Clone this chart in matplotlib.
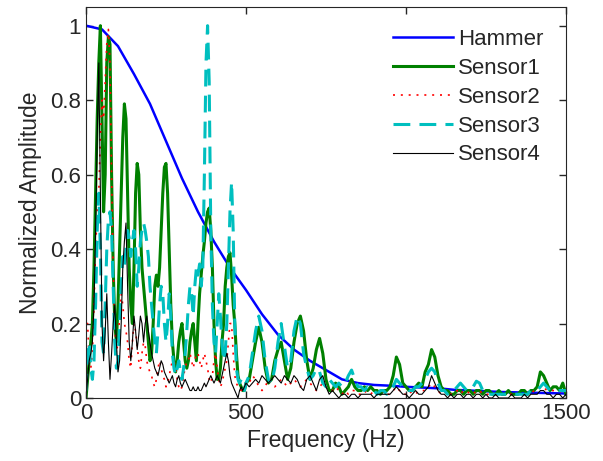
import numpy as np
import matplotlib
matplotlib.use('Agg')
import matplotlib.pyplot as plt

plt.rcParams['font.family'] = ['Liberation Sans', 'DejaVu Sans']

# frequency grids: 5 Hz up to 500 Hz, then 10 Hz up to 1500 Hz
freq = np.concatenate([np.arange(0, 505, 5), np.arange(510, 1510, 10)])
freq_hammer = np.arange(0, 1550, 50)

hammer = [1.0, 0.99, 0.945, 0.87, 0.79, 0.69, 0.59, 0.50, 0.42, 0.35, 0.29,
          0.225, 0.17, 0.13, 0.10, 0.075, 0.05, 0.04, 0.035, 0.033, 0.03,
          0.028, 0.026, 0.022, 0.02, 0.018, 0.016, 0.015, 0.014, 0.013, 0.012]

sensor1 = [0.0, 0.05, 0.1, 0.15, 0.2, 0.35, 0.55, 0.75, 0.9, 1.0,
           0.75, 0.5, 0.6, 0.9, 0.97, 0.95, 0.6, 0.35, 0.2, 0.15,
           0.25, 0.4, 0.55, 0.7, 0.79, 0.75, 0.55, 0.35, 0.25, 0.2,
           0.35, 0.55, 0.63, 0.6, 0.45, 0.35, 0.3, 0.25, 0.2, 0.15,
           0.1, 0.12, 0.2, 0.3, 0.33, 0.3, 0.35, 0.45, 0.55, 0.62,
           0.63, 0.55, 0.4, 0.25, 0.15, 0.1, 0.07, 0.1, 0.15, 0.18,
           0.2, 0.15, 0.1, 0.08, 0.1, 0.15, 0.18, 0.2, 0.15, 0.1,
           0.2, 0.28, 0.33, 0.38, 0.42, 0.47, 0.5, 0.51, 0.45, 0.35,
           0.2, 0.1, 0.05, 0.05, 0.08, 0.15, 0.2, 0.3, 0.35, 0.38,
           0.39, 0.33, 0.25, 0.2, 0.12, 0.06, 0.04, 0.03, 0.02, 0.02,
           0.04,
           0.05, 0.1, 0.15, 0.19, 0.15, 0.08, 0.04, 0.05, 0.1, 0.13,
           0.15, 0.1, 0.05, 0.08, 0.15, 0.2, 0.22, 0.18, 0.1, 0.05,
           0.08, 0.13, 0.16, 0.12, 0.05, 0.02, 0.02, 0.04, 0.03, 0.01,
           0.02, 0.03, 0.05, 0.03, 0.02, 0.02, 0.03, 0.02, 0.03, 0.02,
           0.02, 0.01, 0.02, 0.02, 0.03, 0.06, 0.11, 0.09, 0.04, 0.03,
           0.02, 0.02, 0.03, 0.04, 0.03, 0.07, 0.09, 0.13, 0.11, 0.06,
           0.03, 0.02, 0.02, 0.01, 0.01, 0.02, 0.02, 0.01, 0.02, 0.02,
           0.01, 0.02, 0.02, 0.01, 0.02, 0.02, 0.01, 0.01, 0.02, 0.01,
           0.01, 0.02, 0.01, 0.01, 0.01, 0.02, 0.02, 0.01, 0.02, 0.02,
           0.03, 0.07, 0.06, 0.04, 0.02, 0.03, 0.03, 0.02, 0.04, 0.01]

sensor2 = [0.2, 0.2, 0.1, 0.08, 0.12, 0.25, 0.4, 0.5, 0.55, 0.7,
           0.8, 0.75, 0.85, 0.95, 0.99, 0.9, 0.6, 0.35, 0.2, 0.12,
           0.15, 0.22, 0.28, 0.25, 0.2, 0.18, 0.15, 0.1, 0.08, 0.15,
           0.2, 0.18, 0.14, 0.1, 0.08, 0.12, 0.15, 0.14, 0.1, 0.08,
           0.07, 0.06, 0.04, 0.03, 0.05, 0.08, 0.1, 0.08, 0.06, 0.05,
           0.03, 0.04, 0.06, 0.08, 0.1, 0.1, 0.08, 0.05, 0.03, 0.02,
           0.03, 0.06, 0.08, 0.1, 0.1, 0.12, 0.1, 0.08, 0.1, 0.12,
           0.12, 0.1, 0.08, 0.1, 0.12, 0.1, 0.08, 0.05, 0.04, 0.06,
           0.1, 0.12, 0.08, 0.05, 0.03, 0.04, 0.06, 0.08, 0.1, 0.15,
           0.2, 0.2, 0.12, 0.06, 0.04, 0.03, 0.03, 0.02, 0.03, 0.03,
           0.04,
           0.04, 0.06, 0.05, 0.03, 0.02, 0.03, 0.05, 0.04, 0.03, 0.04,
           0.05, 0.04, 0.03, 0.04, 0.05, 0.04, 0.03, 0.04, 0.05, 0.04,
           0.03, 0.02, 0.03, 0.04, 0.03, 0.02, 0.02, 0.03, 0.02, 0.01,
           0.02, 0.01, 0.02, 0.02, 0.01, 0.01, 0.02, 0.01, 0.01, 0.02,
           0.01, 0.01, 0.02, 0.01, 0.01, 0.02, 0.03, 0.02, 0.01, 0.01,
           0.02, 0.01, 0.01, 0.02, 0.02, 0.02, 0.03, 0.04, 0.03, 0.02,
           0.01, 0.01, 0.02, 0.01, 0.01, 0.02, 0.01, 0.02, 0.02, 0.01,
           0.01, 0.02, 0.02, 0.01, 0.01, 0.01, 0.01, 0.01, 0.01, 0.01,
           0.01, 0.01, 0.01, 0.01, 0.01, 0.01, 0.01, 0.01, 0.01, 0.02,
           0.02, 0.03, 0.03, 0.02, 0.02, 0.02, 0.02, 0.02, 0.01, 0.02]

sensor3 = [0.02, 0.1, 0.15, 0.08, 0.05, 0.1, 0.25, 0.45, 0.55, 0.4,
           0.15, 0.12, 0.25, 0.4, 0.48, 0.5, 0.45, 0.3, 0.15, 0.08,
           0.1, 0.2, 0.3, 0.38, 0.35, 0.4, 0.45, 0.43, 0.38, 0.42,
           0.45, 0.4, 0.3, 0.35, 0.42, 0.45, 0.47, 0.45, 0.42, 0.38,
           0.3, 0.25, 0.2, 0.15, 0.12, 0.18, 0.25, 0.3, 0.28, 0.2,
           0.15, 0.2, 0.28, 0.22, 0.12, 0.08, 0.06, 0.08, 0.1, 0.07,
           0.05, 0.08, 0.12, 0.18, 0.25, 0.3, 0.28, 0.22, 0.3, 0.35,
           0.33, 0.36, 0.3, 0.35, 0.6, 0.9, 1.0, 0.85, 0.45, 0.25,
           0.15, 0.12, 0.2, 0.28, 0.22, 0.15, 0.1, 0.12, 0.2, 0.35,
           0.5, 0.58, 0.45, 0.2, 0.08, 0.05, 0.04, 0.05, 0.03, 0.02,
           0.04,
           0.06, 0.12, 0.18, 0.22, 0.18, 0.1, 0.05, 0.04, 0.08, 0.15,
           0.2, 0.14, 0.08, 0.1, 0.18, 0.22, 0.2, 0.12, 0.08, 0.05,
           0.06, 0.08, 0.07, 0.04, 0.03, 0.05, 0.04, 0.03, 0.04, 0.03,
           0.04, 0.06, 0.075, 0.05, 0.03, 0.03, 0.02, 0.03, 0.02, 0.02,
           0.01, 0.02, 0.02, 0.01, 0.02, 0.03, 0.05, 0.04, 0.03, 0.03,
           0.02, 0.02, 0.03, 0.03, 0.04, 0.05, 0.07, 0.08, 0.07, 0.04,
           0.02, 0.02, 0.01, 0.02, 0.02, 0.03, 0.04, 0.03, 0.02, 0.02,
           0.03, 0.045, 0.04, 0.02, 0.02, 0.01, 0.01, 0.01, 0.01, 0.01,
           0.01, 0.01, 0.01, 0.01, 0.01, 0.01, 0.01, 0.01, 0.02, 0.02,
           0.02, 0.03, 0.04, 0.03, 0.02, 0.02, 0.02, 0.02, 0.02, 0.02]

sensor4 = [0.0, 0.05, 0.1, 0.12, 0.15, 0.25, 0.45, 0.7, 0.9, 0.55,
           0.2, 0.1, 0.18, 0.28, 0.15, 0.05, 0.12, 0.2, 0.25, 0.15,
           0.07, 0.1, 0.2, 0.35, 0.42, 0.47, 0.3, 0.15, 0.1, 0.15,
           0.22, 0.18, 0.13, 0.17, 0.22, 0.2, 0.15, 0.2, 0.22, 0.18,
           0.15, 0.12, 0.1, 0.08, 0.07, 0.06, 0.08, 0.1, 0.09, 0.07,
           0.06, 0.05, 0.04, 0.05, 0.06, 0.04, 0.03, 0.05, 0.06, 0.04,
           0.03, 0.04, 0.05, 0.04, 0.03, 0.02, 0.02, 0.03, 0.02, 0.02,
           0.03, 0.02, 0.02, 0.03, 0.04, 0.03, 0.04, 0.05, 0.06, 0.05,
           0.04, 0.05, 0.06, 0.05, 0.04, 0.06, 0.08, 0.1, 0.12, 0.1,
           0.06, 0.04, 0.03, 0.02, 0.01, 0.0, 0.02, 0.03, 0.02, 0.03,
           0.04,
           0.03, 0.04, 0.05, 0.04, 0.06, 0.05, 0.04, 0.05, 0.06, 0.05,
           0.04, 0.06, 0.05, 0.04, 0.06, 0.05, 0.03, 0.02, 0.05, 0.06,
           0.04, 0.02, 0.05, 0.06, 0.03, 0.01, 0.02, 0.01, 0.0, 0.01,
           0.01, 0.0, 0.01, 0.01, 0.0, 0.01, 0.01, 0.01, 0.01, 0.0,
           0.01, 0.01, 0.01, 0.01, 0.01, 0.02, 0.03, 0.02, 0.01, 0.01,
           0.0, 0.01, 0.02, 0.01, 0.01, 0.02, 0.03, 0.06, 0.04, 0.02,
           0.01, 0.01, 0.0, 0.01, 0.0, 0.01, 0.01, 0.0, 0.01, 0.01,
           0.0, 0.01, 0.01, 0.0, 0.01, 0.0, 0.0, 0.01, 0.0, 0.0,
           0.0, 0.0, 0.01, 0.0, 0.0, 0.0, 0.01, 0.0, 0.01, 0.01,
           0.01, 0.02, 0.02, 0.01, 0.01, 0.0, 0.01, 0.01, 0.0, 0.01]

fig = plt.figure(figsize=(6.03, 4.61), dpi=100)
ax = fig.add_axes([0.1426, 0.1367, 0.796, 0.848])

ax.plot(freq_hammer, hammer, color='#0000ff', lw=1.8, label='Hammer')
ax.plot(freq, sensor1, color='#008000', lw=2.2, label='Sensor1')
ax.plot(freq, sensor2, color='#ff0000', lw=1.2, dashes=(1.2, 3.5), label='Sensor2')
ax.plot(freq, sensor3, color='#00bfbf', lw=2.2, dashes=(5.5, 3), label='Sensor3')
ax.plot(freq, sensor4, color='black', lw=0.8, label='Sensor4')

ax.set_xlim(0, 1500)
ax.set_ylim(0, 1.05)
ax.set_xticks([0, 500, 1000, 1500])
ax.set_yticks([0, 0.2, 0.4, 0.6, 0.8, 1])
ax.set_yticklabels(['0', '0.2', '0.4', '0.6', '0.8', '1'])
ax.tick_params(direction='in', top=True, right=True, length=5, width=1,
               labelsize=16, colors='#262626')
for s in ax.spines.values():
    s.set_color('#262626')
ax.set_xlabel('Frequency (Hz)', fontsize=16.5, color='#262626', labelpad=4)
ax.set_ylabel('Normalized Amplitude', fontsize=16.5, color='#262626', labelpad=6)

leg = ax.legend(loc='upper right', frameon=False, fontsize=16, handlelength=2.7,
                handletextpad=0.25, labelspacing=0.35, borderaxespad=0.6)
for t in leg.get_texts():
    t.set_color('#262626')

fig.savefig('out.png', dpi=100)
